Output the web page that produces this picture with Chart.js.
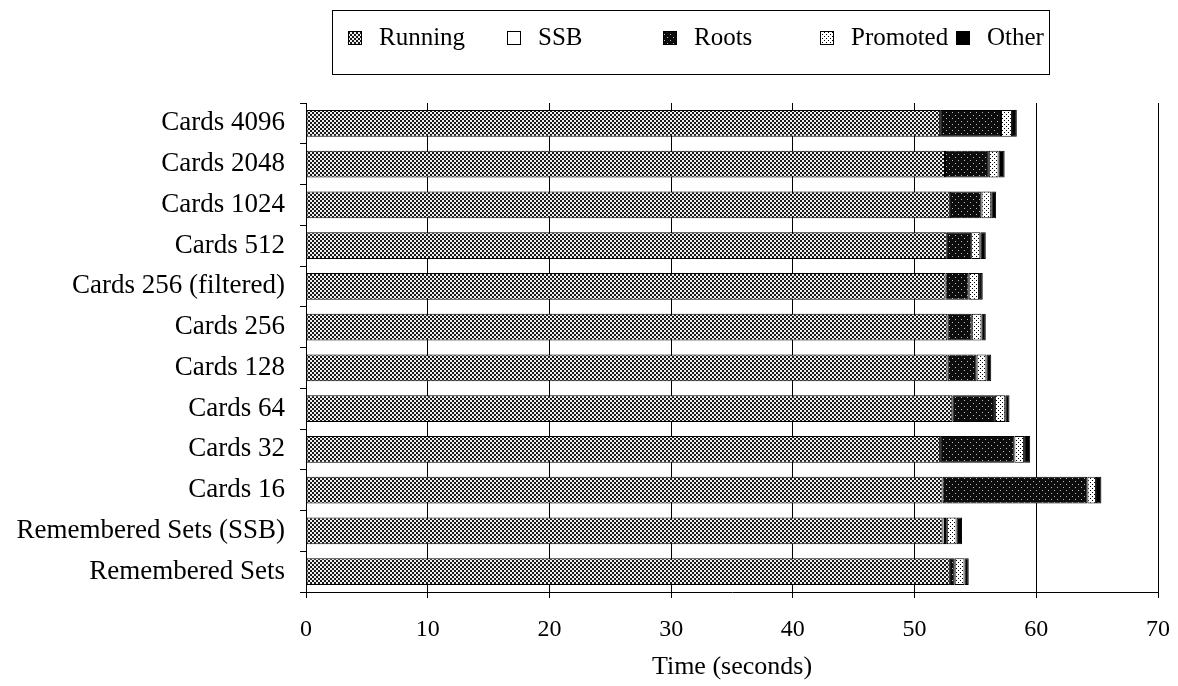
<!DOCTYPE html>
<html>
<head>
<meta charset="utf-8">
<script src="https://cdn.jsdelivr.net/npm/chart.js@4"></script>
<style>
  html, body { margin: 0; padding: 0; background: #fff; }
</style>
</head>
<body>
<canvas id="graphique" width="1178" height="686"></canvas>
<script>
// categories, top to bottom
const categories = [
    'Cards 4096', 'Cards 2048', 'Cards 1024', 'Cards 512', 'Cards 256 (filtered)',
    'Cards 256', 'Cards 128', 'Cards 64', 'Cards 32', 'Cards 16',
    'Remembered Sets (SSB)', 'Remembered Sets'
];

// seconds per part (stacked)
const running  = [52.1, 52.5, 52.9, 52.65, 52.55, 52.7, 52.7, 53.1, 52.1, 52.3, 52.3, 52.9];
const ssb      = [0, 0, 0, 0, 0, 0, 0, 0, 0, 0, 0.2, 0];
const roots    = [5.0, 3.6, 2.6, 2.0, 1.9, 2.0, 2.4, 3.5, 6.1, 11.9, 0.15, 0.4];
const promoted = [0.9, 0.8, 0.8, 0.75, 0.85, 0.8, 0.8, 0.85, 0.8, 0.7, 0.8, 0.8];
const other    = [0.4, 0.5, 0.4, 0.45, 0.3, 0.35, 0.4, 0.35, 0.5, 0.45, 0.45, 0.35];

const xTicks = [0, 10, 20, 30, 40, 50, 60, 70];

// petits motifs pour imiter la trame de l'original
function motif(size, fond, points, couleur) {
    const c = document.createElement('canvas');
    c.width = size; c.height = size;
    const g = c.getContext('2d');
    g.fillStyle = fond;
    g.fillRect(0, 0, size, size);
    g.fillStyle = couleur;
    points.forEach(p => g.fillRect(p[0], p[1], p[2] || 1, p[3] || 1));
    return g.createPattern(c, 'repeat');
}

const motifRunning  = motif(4, '#eeeeee', [[0, 0, 2, 2], [2, 2, 2, 2]], '#1a1a1a');
const motifRoots    = motif(6, '#0d0d0d', [[1, 1], [4, 4]], '#bbbbbb');
const motifPromoted = motif(4, '#ffffff', [[0, 0], [2, 2]], '#000000');

// legende encadree, dessinee a la main
const legendBox = {
    id: 'legendBox',
    afterDraw(chart) {
        const ctx = chart.ctx;
        const xs = [348, 507, 663, 820, 956];
        ctx.save();
        ctx.strokeStyle = '#000';
        ctx.lineWidth = 1;
        ctx.strokeRect(332.5, 10.5, 717, 64);
        ctx.font = '25px "Liberation Serif"';
        ctx.textBaseline = 'alphabetic';
        chart.data.datasets.forEach((ds, i) => {
            ctx.fillStyle = ds.backgroundColor;
            ctx.fillRect(xs[i], 31, 14, 14);
            ctx.strokeRect(xs[i] + 0.5, 31.5, 13, 13);
            ctx.fillStyle = '#000';
            ctx.fillText(ds.label, xs[i] + 31, 45);
        });
        ctx.restore();
    }
};

function serie(label, data, fond) {
    return {
        label: label,
        data: data,
        backgroundColor: fond,
        borderColor: '#000',
        borderWidth: 1,
        borderSkipped: false,
        barPercentage: 0.66,
        categoryPercentage: 1
    };
}

const ctx = document.getElementById('graphique').getContext('2d');
new Chart(ctx, {
    type: 'bar',
    data: {
        labels: categories,
        datasets: [
            serie('Running', running, motifRunning),
            serie('SSB', ssb, '#ffffff'),
            serie('Roots', roots, motifRoots),
            serie('Promoted', promoted, motifPromoted),
            serie('Other', other, '#000000')
        ]
    },
    options: {
        indexAxis: 'y',
        responsive: false,
        animation: false,
        layout: { padding: { top: 103, right: 20, left: 0, bottom: 0 } },
        plugins: {
            legend: { display: false },
            tooltip: { enabled: false }
        },
        scales: {
            x: {
                stacked: true,
                min: 0,
                max: 70,
                afterBuildTicks: s => { s.ticks = xTicks.map(v => ({ value: v })); },
                afterFit: s => { s.height = 94; s.paddingLeft = 0; s.paddingRight = 0; },
                ticks: {
                    color: '#000',
                    font: { family: 'Liberation Serif', size: 24 },
                    padding: 17,
                    maxRotation: 0
                },
                grid: { color: '#000', lineWidth: 1, tickLength: 6 },
                border: { color: '#000', width: 1 },
                title: {
                    display: true,
                    text: 'Time (seconds)',
                    color: '#000',
                    font: { family: 'Liberation Serif', size: 26, lineHeight: 1.2 },
                    padding: { top: 0, bottom: 3 }
                }
            },
            y: {
                stacked: true,
                afterFit: s => { s.width = 306; },
                ticks: {
                    color: '#000',
                    font: { family: 'Liberation Serif', size: 27 },
                    padding: 15
                },
                grid: { drawOnChartArea: false, color: '#000', tickLength: 6, offset: true },
                border: { color: '#000', width: 1 }
            }
        }
    },
    plugins: [legendBox]
});
</script>
</body>
</html>
